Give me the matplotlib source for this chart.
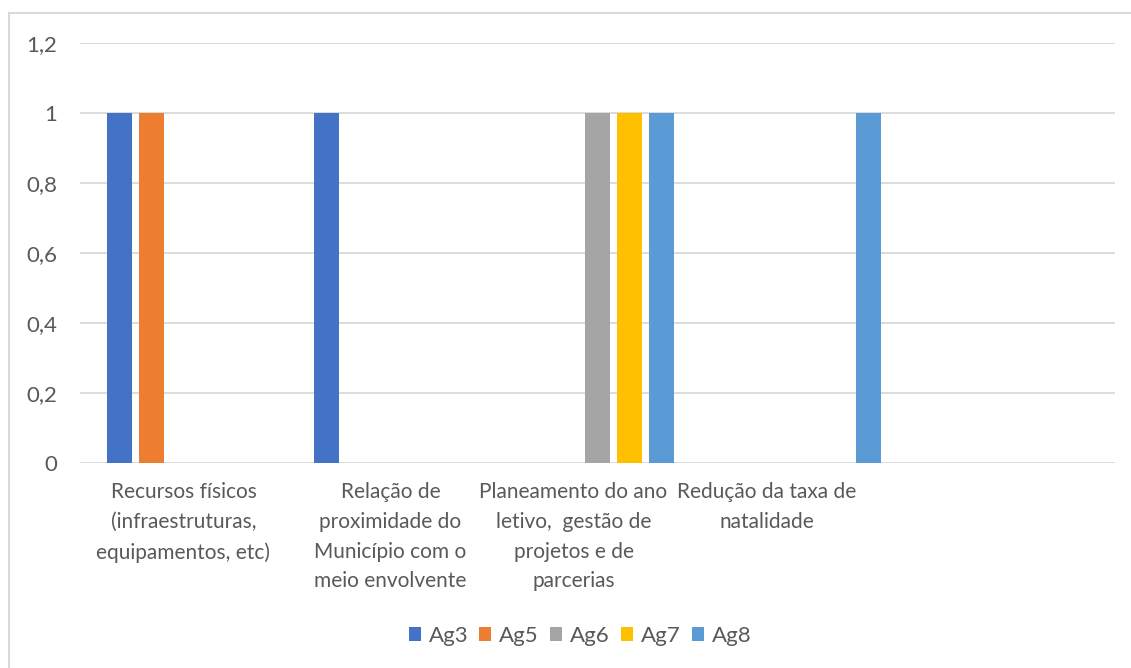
import numpy as np
import matplotlib
matplotlib.use("Agg")
import matplotlib.pyplot as plt
from matplotlib.lines import Line2D
from matplotlib.transforms import ScaledTranslation

categories = [
    "Recursos físicos\n(infraestruturas,\nequipamentos, etc)",
    "Relação de\nproximidade do\nMunicípio com o\nmeio envolvente",
    "Planeamento do ano\nletivo,  gestão de\nprojetos e de\nparcerias",
    "Redução da taxa de\nnatalidade",
    "",
]
series = ["Ag3", "Ag5", "Ag6", "Ag7", "Ag8"]
ag3 = [1, 1, 0, 0, 0]
ag5 = [1, 0, 0, 0, 0]
ag6 = [0, 0, 1, 0, 0]
ag7 = [0, 0, 1, 0, 0]
ag8 = [0, 0, 1, 1, 0]
colors = ["#4472C4", "#ED7D31", "#A5A5A5", "#FFC000", "#5B9BD5"]
yticks = [0, 0.2, 0.4, 0.6, 0.8, 1, 1.2]
ytick_labels = ["0", "0,2", "0,4", "0,6", "0,8", "1", "1,2"]

plt.rcParams['font.family'] = ['Lato', 'DejaVu Sans']
text_color = "#595959"

W, H = 1131, 668
fig = plt.figure(figsize=(W / 100, H / 100), dpi=100)
ax = fig.add_axes([80 / W, 1 - 463 / H, (1115 - 80) / W, (463 - 43) / H])

x = np.arange(len(categories))
slot = 160 / 207 / len(series)
bar_w = 25 / 207
for i, (name, vals) in enumerate(zip(series, [ag3, ag5, ag6, ag7, ag8])):
    ax.bar(x + (i - 2) * slot, vals, width=bar_w, color=colors[i], label=name, zorder=3)

ax.set_xlim(-0.5, len(categories) - 0.5)
ax.set_ylim(0, 1.2)
ax.set_yticks(yticks)
ax.set_yticklabels(ytick_labels)
ax.grid(axis='y', color="#D9D9D9", linewidth=1.3, zorder=0)
for s in ax.spines.values():
    s.set_visible(False)
ax.tick_params(axis='y', length=0, pad=16.5, labelsize=16, labelcolor=text_color)
ax.set_xticks(x)
ax.set_xticklabels(categories, linespacing=1.6)
ax.tick_params(axis='x', length=0, pad=14, labelsize=15, labelcolor=text_color)

# excel nudges the crowded labels sideways
shifts = [0, 0, -0.24, -0.38, 0]
for lab, dx in zip(ax.get_xticklabels(), shifts):
    lab.set_transform(lab.get_transform() + ScaledTranslation(dx, 0, fig.dpi_scale_trans))

leg = fig.legend(loc='center', bbox_to_anchor=(580 / W, 1 - 636 / H), ncol=5, frameon=False,
                 fontsize=16, handlelength=0.55, handleheight=0.55, handletextpad=0.35,
                 columnspacing=0.5)
for t in leg.get_texts():
    t.set_color(text_color)

# chart area border (only top/left visible in the crop)
fig.add_artist(Line2D([8.5 / W, 8.5 / W], [0, 1 - 13 / H], color="#D9D9D9", linewidth=1.5))
fig.add_artist(Line2D([8.5 / W, 1], [1 - 13 / H, 1 - 13 / H], color="#D9D9D9", linewidth=1.5))

fig.savefig("out.png", dpi=100)
